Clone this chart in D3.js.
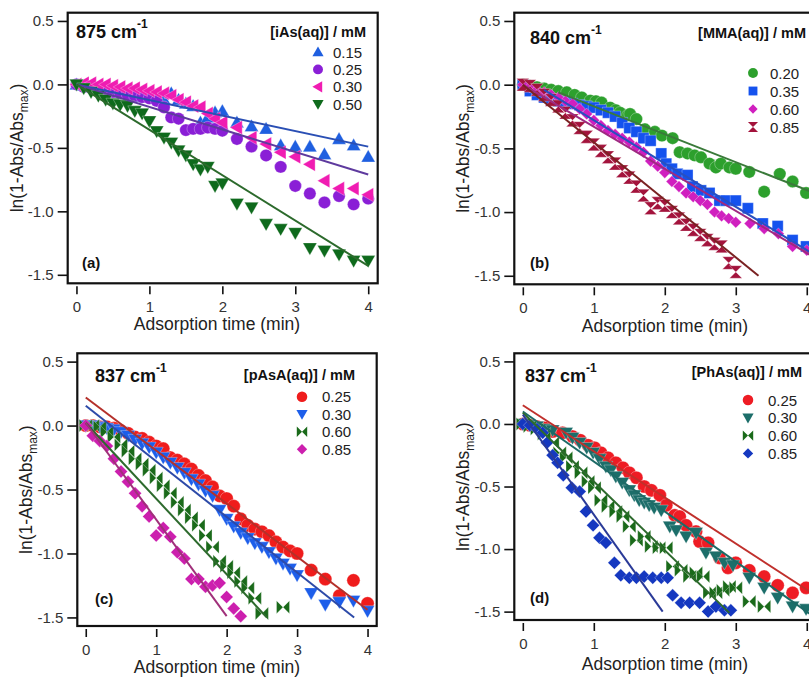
<!DOCTYPE html>
<html><head><meta charset="utf-8">
<script src="https://cdn.jsdelivr.net/npm/d3@7"></script>
<style>html,body{margin:0;padding:0;background:#fff;}svg{display:block;font-family:Arial,"Liberation Sans",sans-serif;}</style>
</head><body>
<script>
// ---------------- DATA ----------------
const xTicks = [0, 1, 2, 3, 4];
const yTicks = [0.5, 0.0, -0.5, -1.0, -1.5];
const xTitle = "Adsorption time (min)";

// Panel (a) iAs, 875 cm-1
const aTitle = "875";
const aLegendTitle = "[iAs(aq)] / mM";
const aConc = ["0.15", "0.25", "0.30", "0.50"];
const aTime = [0,0.1,0.2,0.3,0.4,0.5,0.6,0.7,0.8,0.9,1.0,1.1,1.2,1.3,1.4,1.5,1.6,1.7,1.8,1.9,2.0,2.2,2.4,2.6,2.8,3.0,3.2,3.4,3.6,3.8,4.0];
const a015 = [0,-0.01,-0.02,-0.03,-0.04,-0.05,-0.06,-0.07,-0.09,-0.10,-0.10,-0.11,-0.12,-0.07,-0.12,-0.15,-0.17,-0.30,-0.26,-0.22,-0.21,-0.30,-0.33,-0.35,-0.48,-0.49,-0.49,-0.55,-0.43,-0.48,-0.57];
const a025 = [0,-0.02,-0.03,-0.04,-0.05,-0.06,-0.07,-0.08,-0.09,-0.10,-0.11,-0.13,-0.18,-0.26,-0.27,-0.36,-0.35,-0.35,-0.34,-0.35,-0.365,-0.43,-0.49,-0.56,-0.65,-0.80,-0.86,-0.93,-0.88,-0.945,-0.90];
const a030 = [0,0.01,0.01,0.0,0.0,-0.01,-0.02,-0.03,-0.03,-0.04,-0.05,-0.06,-0.07,-0.09,-0.12,-0.14,-0.17,-0.18,-0.23,-0.27,-0.30,-0.34,-0.42,-0.47,-0.535,-0.57,-0.63,-0.76,-0.82,-0.82,-0.87];
const a050 = [0,-0.03,-0.06,-0.09,-0.12,-0.15,-0.16,-0.17,-0.21,-0.23,-0.29,-0.37,-0.42,-0.46,-0.52,-0.56,-0.63,-0.67,-0.65,-0.80,-0.78,-0.94,-0.97,-1.10,-1.14,-1.17,-1.29,-1.31,-1.34,-1.39,-1.39];
// fit lines [t0, v0, t1, v1]
const aFit015 = [0, 0, 4, -0.49];
const aFit025 = [0, 0, 4, -0.71];
const aFit050 = [0, 0, 4, -1.43];

// Panel (b) MMA, 840 cm-1
const bTitle = "840";
const bLegendTitle = "[MMA(aq)] / mM";
const bConc = ["0.20", "0.35", "0.60", "0.85"];
const bTime020 = [0,0.1,0.2,0.3,0.4,0.5,0.62,0.73,0.83,0.95,1.03,1.11,1.23,1.31,1.37,1.48,1.51,1.6,1.72,1.86,1.96,2.11,2.21,2.32,2.42,2.51,2.63,2.72,2.79,2.91,3.0,3.19,3.4,3.62,3.8,3.99];
const b020 = [0,-0.01,-0.02,-0.03,-0.04,-0.05,-0.06,-0.08,-0.10,-0.125,-0.13,-0.14,-0.18,-0.20,-0.22,-0.24,-0.23,-0.27,-0.35,-0.37,-0.40,-0.42,-0.53,-0.54,-0.555,-0.57,-0.62,-0.65,-0.62,-0.65,-0.66,-0.685,-0.84,-0.70,-0.76,-0.85];
const bTime035 = [0,0.1,0.2,0.3,0.4,0.5,0.6,0.7,0.8,0.9,1.0,1.1,1.2,1.3,1.4,1.5,1.6,1.7,1.8,1.95,2.02,2.1,2.18,2.32,2.39,2.51,2.63,2.77,2.86,3.0,3.17,3.38,3.59,3.8,3.99];
const b035 = [0,-0.05,-0.08,-0.10,-0.12,-0.13,-0.14,-0.15,-0.16,-0.17,-0.18,-0.20,-0.22,-0.25,-0.30,-0.34,-0.37,-0.42,-0.44,-0.54,-0.62,-0.66,-0.70,-0.71,-0.80,-0.83,-0.85,-0.91,-0.91,-0.91,-0.97,-1.09,-1.11,-1.22,-1.27];
const bTime060 = [0,0.1,0.2,0.3,0.4,0.5,0.6,0.7,0.8,0.9,1.0,1.1,1.2,1.3,1.4,1.5,1.6,1.7,1.8,1.9,2.0,2.1,2.2,2.3,2.4,2.5,2.6,2.7,2.8,2.9,3.0,3.2,3.4,3.6,3.8,4.0];
const b060 = [0,-0.02,-0.04,-0.06,-0.08,-0.10,-0.13,-0.15,-0.19,-0.23,-0.28,-0.32,-0.36,-0.39,-0.42,-0.45,-0.49,-0.53,-0.60,-0.64,-0.69,-0.76,-0.80,-0.85,-0.88,-0.91,-0.94,-1.00,-1.03,-1.05,-1.08,-1.09,-1.13,-1.17,-1.27,-1.30];
const bTime085 = [0,0.1,0.2,0.3,0.4,0.5,0.6,0.7,0.8,0.9,1.0,1.1,1.2,1.3,1.4,1.5,1.6,1.7,1.8,1.9,2.0,2.1,2.2,2.3,2.4,2.5,2.6,2.7,2.8,2.9,3.0];
const b085 = [0,-0.01,-0.04,-0.08,-0.12,-0.17,-0.22,-0.28,-0.34,-0.41,-0.47,-0.52,-0.57,-0.62,-0.68,-0.73,-0.80,-0.87,-0.97,-0.93,-0.95,-1.00,-1.05,-1.10,-1.14,-1.18,-1.22,-1.25,-1.27,-1.40,-1.47];
const bFit020 = [0.5, -0.06, 4.15, -0.86];
const bFit035 = [0.3, -0.04, 4.15, -1.35];
const bFit060 = [0, 0, 4.15, -1.37];
const bFit085 = [0, 0, 3.32, -1.50];

// Panel (c) pAsA, 837 cm-1
const cTitle = "837";
const cLegendTitle = "[pAsA(aq)] / mM";
const cConc = ["0.25", "0.30", "0.60", "0.85"];
const cTime = [0,0.1,0.2,0.3,0.4,0.5,0.6,0.7,0.8,0.9,1.0,1.1,1.2,1.3,1.4,1.5,1.6,1.7,1.8,1.9,2.0,2.1,2.2,2.3,2.4,2.5,2.6,2.7,2.8,2.9,3.0,3.2,3.4,3.6,3.8,4.0];
const c025 = [0,0.0,-0.01,-0.01,-0.02,-0.04,-0.06,-0.09,-0.10,-0.13,-0.16,-0.18,-0.25,-0.27,-0.30,-0.34,-0.39,-0.43,-0.48,-0.55,-0.57,-0.63,-0.73,-0.78,-0.81,-0.83,-0.86,-0.91,-0.95,-0.98,-1.00,-1.13,-1.20,-1.33,-1.21,-1.39];
const c030 = [0,0.0,-0.01,-0.02,-0.03,-0.05,-0.08,-0.11,-0.14,-0.17,-0.21,-0.25,-0.29,-0.33,-0.37,-0.42,-0.46,-0.51,-0.55,-0.66,-0.73,-0.79,-0.84,-0.88,-0.92,-0.95,-0.99,-1.04,-1.08,-1.12,-1.17,-1.31,-1.40,-1.38,-1.37,-1.45];
const cTime060 = [0,0.1,0.2,0.3,0.4,0.5,0.6,0.7,0.8,0.9,1.0,1.1,1.2,1.3,1.4,1.5,1.6,1.7,1.8,1.9,2.0,2.1,2.2,2.3,2.4,2.5,2.8];
const c060 = [0,0.0,-0.01,-0.05,-0.09,-0.15,-0.20,-0.26,-0.30,-0.35,-0.41,-0.47,-0.53,-0.60,-0.66,-0.72,-0.78,-0.86,-0.95,-1.06,-1.10,-1.15,-1.22,-1.27,-1.35,-1.47,-1.42];
const cTime085 = [0,0.1,0.2,0.3,0.4,0.5,0.6,0.7,0.8,0.9,1.0,1.1,1.2,1.3,1.4,1.5,1.6,1.7,1.8,1.9,2.0,2.1,2.2];
const c085 = [0,-0.08,-0.12,-0.16,-0.26,-0.36,-0.44,-0.53,-0.63,-0.71,-0.86,-0.80,-0.87,-0.99,-1.04,-1.20,-1.20,-1.26,-1.25,-1.23,-1.34,-1.43,-1.49];
const cFit025 = [0, 0.22, 4.0, -1.44];
const cFit030 = [0, 0.155, 3.81, -1.50];
const cFit060 = [0, 0.02, 2.57, -1.50];
const cFit085 = [0, 0.02, 2.0, -1.49];

// Panel (d) PhAs, 837 cm-1
const dTitle = "837";
const dLegendTitle = "[PhAs(aq)] / mM";
const dConc = ["0.25", "0.30", "0.60", "0.85"];
const dTime025 = [0,0.1,0.2,0.3,0.42,0.56,0.7,0.81,0.92,1.01,1.1,1.2,1.31,1.41,1.5,1.6,1.71,1.81,1.93,2.02,2.14,2.21,2.3,2.44,2.49,2.61,2.77,2.89,3.0,3.19,3.4,3.59,3.8,3.99];
const d025 = [0,-0.01,-0.02,-0.03,-0.06,-0.07,-0.10,-0.13,-0.17,-0.19,-0.23,-0.27,-0.31,-0.35,-0.39,-0.43,-0.50,-0.53,-0.57,-0.65,-0.73,-0.74,-0.81,-0.86,-0.94,-0.95,-1.07,-1.15,-1.11,-1.17,-1.22,-1.29,-1.35,-1.31];
const dTime030 = [0,0.1,0.2,0.3,0.42,0.61,0.7,0.8,0.9,0.99,1.08,1.17,1.24,1.31,1.4,1.5,1.57,1.64,1.71,1.78,1.85,1.95,2.07,2.16,2.3,2.44,2.58,2.72,2.84,2.96,3.19,3.4,3.59,3.8,3.99];
const d030 = [0,-0.01,-0.02,-0.04,-0.05,-0.07,-0.11,-0.15,-0.19,-0.23,-0.28,-0.34,-0.37,-0.42,-0.47,-0.53,-0.57,-0.61,-0.63,-0.65,-0.67,-0.69,-0.82,-0.85,-0.90,-0.87,-1.03,-1.06,-1.11,-1.13,-1.23,-1.31,-1.39,-1.46,-1.48];
const dTime060 = [0,0.1,0.2,0.3,0.42,0.52,0.61,0.7,0.82,0.92,1.01,1.1,1.2,1.31,1.41,1.5,1.6,1.71,1.81,1.92,2.02,2.11,2.23,2.35,2.44,2.54,2.63,2.72,2.82,2.91,3.0,3.19,3.4];
const d060 = [0,-0.02,-0.04,-0.08,-0.15,-0.23,-0.27,-0.34,-0.39,-0.46,-0.51,-0.61,-0.66,-0.70,-0.74,-0.82,-0.93,-0.90,-0.98,-0.99,-0.99,-1.14,-1.17,-1.22,-1.19,-1.22,-1.35,-1.35,-1.33,-1.30,-1.31,-1.42,-1.46];
const dTime085 = [0,0.1,0.2,0.28,0.34,0.42,0.49,0.57,0.69,0.8,0.89,0.99,1.08,1.17,1.29,1.38,1.5,1.6,1.71,1.83,1.95,2.04,2.11,2.23,2.35,2.49,2.61,2.72,2.84,2.93];
const d085 = [0,-0.01,-0.04,-0.07,-0.15,-0.25,-0.31,-0.41,-0.51,-0.54,-0.70,-0.81,-0.91,-0.95,-1.11,-1.21,-1.23,-1.23,-1.22,-1.23,-1.23,-1.23,-1.37,-1.43,-1.43,-1.43,-1.50,-1.46,-1.49,-1.49];
const dFit025 = [0, 0.15, 4.15, -1.38];
const dFit030 = [0, 0.10, 4.1, -1.54];
const dFit060 = [0, 0.09, 2.91, -1.51];
const dFit085 = [0, 0.075, 1.97, -1.50];

// ---------------- LAYOUT / STYLE ----------------
const W = 809, H = 677;
const xDomain = [-0.12, 4.13], yDomain = [0.565, -1.567];

const panels = [
  { tag: "(a)", title: aTitle, legendTitle: aLegendTitle, conc: aConc,
    box: [67.7, 12.7, 377.7, 283.3], xLabelX: 217, xLabelDy: 47,
    titlePos: [76, 37.5], legPos: { titleX: 366, titleY: 37, mx: 318, tx: 333, y0: 52, dy: 17.4 }, tagPos: [82, 268],
    series: [
      { t: aTime, v: a015, shape: "up", size: 7, color: "#1f5fe0", fit: aFit015, fitColor: "#2a4fb4" },
      { t: aTime, v: a025, shape: "circle", size: 6.2, color: "#8a1fd6", fit: aFit025, fitColor: "#5e3a9e" },
      { t: aTime, v: a030, shape: "left", size: 7, color: "#f01cb2", fit: null },
      { t: aTime, v: a050, shape: "down", size: 7, color: "#0e6a1c", fit: aFit050, fitColor: "#2c6a2c" } ] },
  { tag: "(b)", title: bTitle, legendTitle: bLegendTitle, conc: bConc,
    box: [514.3, 12.7, 816, 284.3], xLabelX: 665, xLabelDy: 48,
    titlePos: [530, 43.5], legPos: { titleX: 806, titleY: 38, mx: 753, tx: 770, y0: 73, dy: 18 }, tagPos: [530, 268],
    series: [
      { t: bTime020, v: b020, shape: "circle", size: 6.2, color: "#2da02d", fit: bFit020, fitColor: "#3a7a3a" },
      { t: bTime035, v: b035, shape: "square", size: 6.5, color: "#1552ee", fit: bFit035, fitColor: "#2850c0" },
      { t: bTime060, v: b060, shape: "diamond", size: 5.8, color: "#d01fbf", fit: bFit060, fitColor: "#9e2a80" },
      { t: bTime085, v: b085, shape: "hourglass", size: 6.3, color: "#a3133c", fit: bFit085, fitColor: "#7a2222" } ] },
  { tag: "(c)", title: cTitle, legendTitle: cLegendTitle, conc: cConc,
    box: [77.3, 353.3, 376.7, 626], xLabelX: 217, xLabelDy: 47,
    titlePos: [95, 381.5], legPos: { titleX: 355, titleY: 380, mx: 302, tx: 322, y0: 396.7, dy: 17.5 }, tagPos: [95, 604],
    series: [
      { t: cTime, v: c025, shape: "circle", size: 6.6, color: "#ef1c1c", fit: cFit025, fitColor: "#b4302a" },
      { t: cTime, v: c030, shape: "down", size: 7, color: "#1d5eea", fit: cFit030, fitColor: "#2d4aa8" },
      { t: cTime060, v: c060, shape: "bowtie", size: 6.5, color: "#1a6a1a", fit: cFit060, fitColor: "#2d6a2d" },
      { t: cTime085, v: c085, shape: "diamond", size: 6.5, color: "#cc1fae", fit: cFit085, fitColor: "#a0307a" } ] },
  { tag: "(d)", title: dTitle, legendTitle: dLegendTitle, conc: dConc,
    box: [514.3, 353.3, 816, 620], xLabelX: 665, xLabelDy: 50,
    titlePos: [525, 381.5], legPos: { titleX: 802, titleY: 377, mx: 748, tx: 768, y0: 400, dy: 17.8 }, tagPos: [530, 603],
    series: [
      { t: dTime025, v: d025, shape: "circle", size: 6.6, color: "#ee1c24", fit: dFit025, fitColor: "#c0302c" },
      { t: dTime030, v: d030, shape: "down", size: 7, color: "#1c6e6a", fit: dFit030, fitColor: "#1d6a66" },
      { t: dTime060, v: d060, shape: "bowtie", size: 6.5, color: "#1a6a1a", fit: dFit060, fitColor: "#2d6a2d" },
      { t: dTime085, v: d085, shape: "diamond", size: 6.5, color: "#1538c0", fit: dFit085, fitColor: "#2a3a98" } ] }
];

function markerPath(type, s) {
  switch (type) {
    case "circle": return `M${-s},0A${s},${s} 0 1,0 ${s},0A${s},${s} 0 1,0 ${-s},0Z`;
    case "up": return `M0,${-s}L${s},${s*0.75}L${-s},${s*0.75}Z`;
    case "down": return `M0,${s}L${s},${-s*0.75}L${-s},${-s*0.75}Z`;
    case "left": return `M${-s},0L${s*0.75},${-s}L${s*0.75},${s}Z`;
    case "square": { const h = s*0.85; return `M${-h},${-h}H${h}V${h}H${-h}Z`; }
    case "diamond": return `M0,${-s}L${s},0L0,${s}L${-s},0Z`;
    case "hourglass": return `M${-s},${-s}H${s}L0,0Z M${-s},${s}H${s}L0,0Z`;
    case "bowtie": return `M${-s},${-s}V${s}L0,0Z M${s},${-s}V${s}L0,0Z`;
  }
}

const svg = d3.select("body").append("svg").attr("width", W).attr("height", H);
svg.append("rect").attr("width", W).attr("height", H).attr("fill", "#fff");

panels.forEach(p => {
  const [x0, y0, x1, y1] = p.box;
  const x = d3.scaleLinear().domain(xDomain).range([x0, x1]);
  const y = d3.scaleLinear().domain(yDomain).range([y0, y1]);
  const g = svg.append("g");

  // axes
  const ya = g.append("g").attr("transform", `translate(${x0},0)`)
    .call(d3.axisLeft(y).tickValues(yTicks).tickFormat(d => d.toFixed(1)).tickSize(10).tickPadding(4).tickSizeOuter(0));
  const xa = g.append("g").attr("transform", `translate(0,${y1 + 3})`)
    .call(d3.axisBottom(x).tickValues(xTicks).tickFormat(d => String(d)).tickSize(8).tickPadding(7).tickSizeOuter(0));
  [ya, xa].forEach(a => {
    a.select(".domain").remove();
    a.selectAll(".tick line").attr("stroke", "#111").attr("stroke-width", 1.6);
    a.selectAll(".tick text").attr("font-size", 15).attr("fill", "#333")
      .attr("font-family", "Arial, 'Liberation Sans', sans-serif");
  });

  // series points
  p.series.forEach(s => {
    const pts = s.t.map((t, i) => [t, s.v[i]]);
    g.append("g").selectAll("path").data(pts).join("path")
      .attr("d", markerPath(s.shape, s.size))
      .attr("transform", d => `translate(${x(d[0])},${y(d[1])})`)
      .attr("fill", s.color).attr("stroke", "#fff").attr("stroke-width", 0.5).attr("stroke-opacity", 0.6);
  });
  // fit lines
  p.series.forEach(s => {
    if (!s.fit) return;
    g.append("line")
      .attr("x1", x(s.fit[0])).attr("y1", y(s.fit[1]))
      .attr("x2", x(s.fit[2])).attr("y2", y(s.fit[3]))
      .attr("stroke", s.fitColor).attr("stroke-width", 2);
  });

  // frame
  g.append("rect").attr("x", x0).attr("y", y0).attr("width", x1 - x0).attr("height", y1 - y0)
    .attr("fill", "none").attr("stroke", "#111").attr("stroke-width", 2.2);

  // title "xxx cm-1"
  const tt = g.append("text").attr("x", p.titlePos[0]).attr("y", p.titlePos[1])
    .attr("font-size", 18).attr("font-weight", "bold").attr("fill", "#111");
  tt.append("tspan").text(p.title + " cm");
  tt.append("tspan").attr("dy", -10).attr("font-size", 12).text("-1");

  // legend
  const L = p.legPos;
  g.append("text").attr("x", L.titleX).attr("y", L.titleY).attr("text-anchor", "end")
    .attr("font-size", 14.5).attr("font-weight", "bold").attr("fill", "#111").text(p.legendTitle);
  p.series.forEach((s, i) => {
    const cy = L.y0 + i * L.dy;
    g.append("path").attr("d", markerPath(s.shape, s.size * 0.8))
      .attr("transform", `translate(${L.mx},${cy})`).attr("fill", s.color);
    g.append("text").attr("x", L.tx).attr("y", cy + 5.5).attr("font-size", 15).attr("fill", "#222").text(p.conc[i]);
  });

  // panel tag
  g.append("text").attr("x", p.tagPos[0]).attr("y", p.tagPos[1])
    .attr("font-size", 15).attr("font-weight", "bold").attr("fill", "#111").text(p.tag);

  // axis titles
  g.append("text").attr("x", p.xLabelX).attr("y", y1 + p.xLabelDy).attr("text-anchor", "middle")
    .attr("font-size", 17.5).attr("fill", "#222").text(xTitle);
  const yl = g.append("text").attr("transform", `translate(${x0 - 45},${(y0 + y1) / 2}) rotate(-90)`)
    .attr("text-anchor", "middle").attr("font-size", 17.5).attr("fill", "#222");
  yl.append("tspan").text("ln(1-Abs/Abs");
  yl.append("tspan").attr("font-size", 12).attr("dy", 5).text("max");
  yl.append("tspan").attr("dy", -5).text(")");
});
</script>
</body></html>
